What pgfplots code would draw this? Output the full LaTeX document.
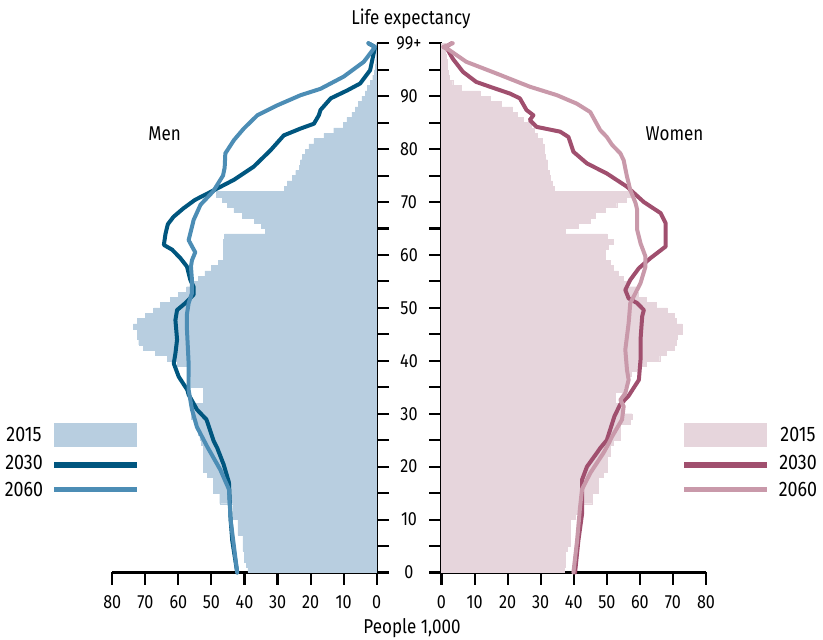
\documentclass[border=0pt]{standalone}
\usepackage{fontspec}
\setmainfont{Fira Sans}[FakeStretch=0.85]
\usepackage{pgfplots}
\pgfplotsset{compat=1.18}
\usepackage{pgfplotstable}

\definecolor{mfill}{HTML}{B8CEE0}
\definecolor{mdark}{HTML}{00567F}
\definecolor{mlight}{HTML}{4C8DB5}
\definecolor{ffill}{HTML}{E6D5DC}
\definecolor{fdark}{HTML}{A04F6E}
\definecolor{flight}{HTML}{C999AA}

% 2015 population by single year of age (thousands)
\pgfplotstableread{
age m f
0 39 37
1 39.5 37.5
2 40 37.5
3 40 37.5
4 40.5 38
5 40.5 39
6 40.5 39
7 42 39
8 42 39
9 42 39
10 43.5 40.5
11 43.5 41
12 43.5 41.5
13 47.5 45.5
14 47.5 45.5
15 49.4 47.5
16 49.4 47.5
17 49.4 47.5
18 51.3 49
19 52.4 50
20 52.4 50
21 52.4 50
22 52.4 51
23 52.4 51
24 53 52
25 53.5 54
26 54 54
27 54.5 54
28 55 57
29 56 57.6
30 56 54.5
31 55.5 54
32 52.5 52.6
33 52.5 52.6
34 52.5 55
35 56 55.5
36 56 56.5
37 56.5 57.5
38 57 60
39 60.4 62
40 63.4 66
41 67 68
42 70.6 70.5
43 72 71
44 72.5 71.3
45 72.5 72.8
46 73.6 72.8
47 72.5 71
48 70 70.5
49 67.5 68.3
50 65.5 65
51 62.4 62
52 60 59.5
53 57.5 59
54 56 56
55 54 55
56 52 53.5
57 50 52
58 48 51
59 46.5 49.5
60 46.5 49.5
61 46.5 50.5
62 46.5 52
63 46 50
64 33.6 37.4
65 35 41.4
66 37 45
67 40.7 46.5
68 43.2 49.5
69 45.2 53
70 46.8 56
71 48.5 57
72 28 34
73 27 33.5
74 25.5 33
75 24.5 32.5
76 23.5 32
77 23 32
78 22.5 31.5
79 21.5 31
80 20.5 31
81 19 30.5
82 16 29
83 13 28
84 10 27
85 9 24.7
86 7.5 23
87 6.5 21.5
88 5.5 18
89 4.5 14.6
90 3.5 11.6
91 2.8 6
92 2 3.4
93 1.2 2.4
94 0.8 2
95 0.5 1.8
96 0.3 1.6
97 0.2 1.4
98 0.1 1.2
99 0.1 1.2
}\pyramid

\pgfplotstableread{
v a
42.2 0
43.7 6
44.2 10
44.7 17
46.3 20.4
48.3 23.6
49.3 24.8
51.5 28.9
54.4 30.8
56.9 33.6
57.3 34.5
59.9 37
61.4 39.5
60.9 41.4
60.4 44
60.9 47.7
60.4 49.6
57.9 50.9
55.4 52.5
55.4 54
56.4 55.3
57.4 57.8
59.4 59.4
61.9 61
64.4 61.9
63.9 64
63.2 65.8
61.5 67.2
58.5 68.8
55 70.4
50.3 71.9
43.2 74.2
37.2 76.7
32.1 79.8
28.1 82.6
23 83.9
19 84.8
17.5 86.4
17 87.4
13.9 89.6
8.9 91.1
5 92.4
2 94.9
0.5 99.3
2.5 100
}\mthirty

\pgfplotstableread{
v a
42.2 0
43.2 5
44.2 10
44.7 15.7
47.3 19.4
51.3 23.8
54.4 27.5
55.9 30.8
56.9 34.5
56.9 39.5
57.4 45.8
57.4 48.9
56.9 50.9
55.9 52.8
55.9 55.3
56.2 57.8
55.9 59
54.9 60.5
56.9 62.8
55.9 65.3
55.4 66.6
53.3 69.5
49.5 72
46.5 75
46 76.5
45.8 79.2
43.2 81.7
40.2 83.9
36.1 86.4
30 88.3
23 90.2
17 91.4
10 93.7
3.9 96.5
0.5 99.3
2.5 100
}\msixty

\pgfplotstableread{
v a
40.4 0
41.4 6
42.5 11
42.5 17.5
44 20
47 22.6
48 23.5
50 25
52.3 29.5
54 31.7
56.5 33.3
59.7 36.4
60.2 40.2
60.2 44
60.7 48.4
61.2 49.6
59.2 50.9
56.6 51.8
55.6 53.4
57.1 55.3
59.7 57.5
63.2 59.4
67.8 61.6
67.8 66
66.3 67.9
61.2 70
56.1 72.9
50 75.4
44 77.3
39.9 79.5
38.4 82.3
35.9 83.3
28.8 84.2
26.7 85.5
27.8 86.4
25.7 87.4
23.7 89.6
20.7 90.5
14.6 91.8
10.5 92.7
6.5 94.6
3.4 97.1
1.4 99.3
3 100
}\fthirty

\pgfplotstableread{
v a
39.9 0
41 6
41.9 12.3
42.5 15.7
45 18.8
49 22.6
50.5 24.3
51.6 25.7
54.6 28.9
55.1 31.4
54.1 32.6
55.6 33.9
56.6 36.4
56.1 38.3
55.6 42.1
56.6 47.1
57.1 50.9
58.1 52.1
60.2 54.7
61.7 57.8
61.7 59.7
60.2 62.2
59.2 64.7
59.2 68.5
58.7 69.8
57.1 72.3
56.1 74.8
55.1 77.9
54.1 79.2
51.6 80.8
50 82.3
48 83.6
45 87
40.9 88.6
34.9 90.2
26.7 91.8
16.6 94.3
7.5 96.5
2.4 98.7
0.5 99.3
3.4 100
}\fsixty

\pgfplotsset{
  pyr/.style={
    scale only axis,
    height=529.2pt,
    ymin=0, ymax=100,
    ytick={0,5,...,100}, yticklabels={},
    axis x line*=bottom,
    tick align=outside,
    major tick length=12.5pt,
    axis line style={-, line width=2.3pt},
    tick style={black, line width=2.1pt},
    clip=false,
    tick label style={font=\fontsize{19}{19}\selectfont},
    xticklabel style={yshift=-7pt},
    /pgf/number format/assume math mode=true,
  },
  popline/.style={line width=4pt, line join=round, line cap=round, no marks},
}

\begin{document}
\begin{tikzpicture}[x=1pt,y=1pt]
\useasboundingbox (0,0) rectangle (823,640);

% Men
\begin{axis}[pyr,
  at={(112.3pt,67.5pt)}, anchor=south west,
  width=264.4pt,
  xmin=-80, xmax=0,
  xtick={-80,-70,...,0},
  xticklabels={80,70,60,50,40,30,20,10,0},
  axis y line*=right,
]
\addplot[xbar, bar width=1, bar shift=0pt, fill=mfill, draw=mfill, line width=0.4pt]
  table[x expr=-\thisrow{m}, y expr=\thisrow{age}+0.5] {\pyramid};
\addplot[popline, mdark] table[x expr=-\thisrow{v}, y=a] {\mthirty};
\addplot[popline, mlight] table[x expr=-\thisrow{v}, y=a] {\msixty};
\end{axis}

% Women
\begin{axis}[pyr,
  at={(441.5pt,67.5pt)}, anchor=south west,
  width=264.5pt,
  xmin=0, xmax=80,
  xtick={0,10,...,80},
  axis y line*=left,
]
\addplot[xbar, bar width=1, bar shift=0pt, fill=ffill, draw=ffill, line width=0.4pt]
  table[x=f, y expr=\thisrow{age}+0.5] {\pyramid};
\addplot[popline, fdark] table[x=v, y=a] {\fthirty};
\addplot[popline, flight] table[x=v, y=a] {\fsixty};
\end{axis}

% age labels between the two axes
\foreach \a in {0,10,...,90}
  \node[font=\fontsize{19}{19}\selectfont, inner sep=0pt] at (409, 67.5+5.292*\a) {\a};
\node[font=\fontsize{19}{19}\selectfont, inner sep=0pt] at (409, 596.7) {99+};

% titles
\node[font=\fontsize{20}{20}\selectfont, anchor=base] at (411, 615) {Life expectancy};
\node[font=\fontsize{20}{20}\selectfont, anchor=base] at (412, 6) {People 1,000};
\node[font=\fontsize{20}{20}\selectfont, inner sep=0pt] at (164.5, 506) {Men};
\node[font=\fontsize{20}{20}\selectfont, inner sep=0pt] at (674.5, 506) {Women};

% legend (men)
\fill[mfill] (54,193.3) rectangle (136.7,216.7);
\draw[mdark, line width=6pt, line cap=butt] (54,175.3) -- (137,175.3);
\draw[mlight, line width=5.5pt, line cap=butt] (54,150.5) -- (137,150.5);
\node[font=\fontsize{21}{21}\selectfont, inner sep=0pt] at (24,205.3) {2015};
\node[font=\fontsize{21}{21}\selectfont, inner sep=0pt] at (24,177.5) {2030};
\node[font=\fontsize{21}{21}\selectfont, inner sep=0pt] at (24,150) {2060};

% legend (women)
\fill[ffill] (684,193.3) rectangle (767,216.7);
\draw[fdark, line width=6pt, line cap=butt] (684,175.3) -- (767,175.3);
\draw[flight, line width=5.5pt, line cap=butt] (684,150.5) -- (767,150.5);
\node[font=\fontsize{21}{21}\selectfont, inner sep=0pt] at (798,205.3) {2015};
\node[font=\fontsize{21}{21}\selectfont, inner sep=0pt] at (798,177.5) {2030};
\node[font=\fontsize{21}{21}\selectfont, inner sep=0pt] at (798,150) {2060};
\end{tikzpicture}
\end{document}
